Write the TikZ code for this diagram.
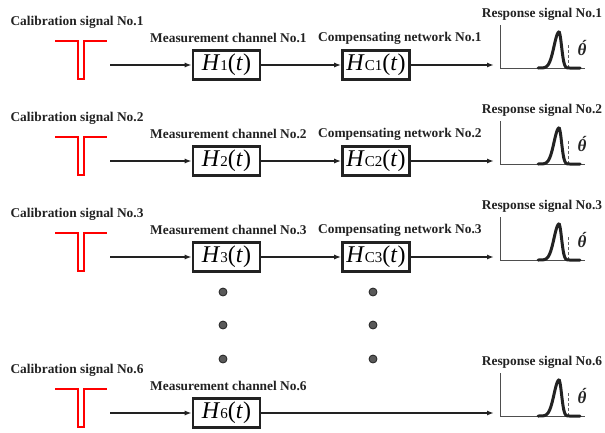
\documentclass[tikz,border=0pt]{standalone}
\usepackage{fontspec}
\setmainfont{Liberation Serif}
\usetikzlibrary{arrows.meta}
\definecolor{ink}{HTML}{222222}
\newcommand\Hbox[1]{{\fontsize{24}{24}\selectfont\itshape H\/}{\fontsize{15}{15}\selectfont #1}{\fontsize{24}{24}\selectfont(\textit{t})}}
\newcommand\thsym{{\bfseries\itshape θ\symbol{"0301}}}
\tikzset{
  lbl/.style={font=\fontsize{13.4}{14}\selectfont\bfseries, inner sep=0pt, text=ink},
  blk/.style={draw=ink, line width=2.6pt, minimum width=67pt, minimum height=29pt, inner sep=0pt},
  sig/.style={draw=ink, line width=2.2pt, -{Latex[length=7pt,width=5pt]}},
  pulse/.style={draw=red, line width=2pt},
  axisln/.style={draw=ink!80, line width=0.9pt},
  resp/.style={draw=ink, line width=3pt, line cap=round},
  dashln/.style={draw=ink!70, line width=0.9pt, dash pattern=on 3pt off 2pt},
  dotc/.style={circle, fill=ink!75, draw=ink, line width=0.8pt, minimum size=8pt, inner sep=0pt},
  sym/.style={inner sep=0pt, text=ink, font=\fontsize{17}{17}\selectfont},
}
\newcommand\respplot[1]{%
  \draw[axisln] (500,#1-40) -- (500,#1+3) -- (585,#1+3);
  \draw[dashln] (568,#1-20) -- (568,#1+3);
  \draw[resp] plot[domain=538:580, samples=60, smooth] (\x, {#1+3-36*exp(-((\x-559)/((\x<559)*7+(\x>=559)*3.6))*((\x-559)/((\x<559)*7+(\x>=559)*3.6)))});
}
\newcommand\pulseshape[1]{%
  \draw[pulse] (55,#1-24) -- (78.3,#1-24) -- (78.3,#1+14) -- (84.3,#1+14) -- (84.3,#1-24) -- (107,#1-24);
}
\begin{document}
\begin{tikzpicture}[x=1pt,y=-1pt]
\useasboundingbox (0,0) rectangle (605,432);
\foreach \i/\c in {1/65,2/161,3/257}{
  \node[lbl] (cal\i) at (77,\c-43) {Calibration signal No.\i};
  \pulseshape{\c}
  \coordinate (s\i) at (110,\c);
  \node[blk] (m\i) at (226.5,\c) {\Hbox{\i}};
  \node[blk] (k\i) at (376,\c) {\Hbox{C\i}};
  \coordinate (r\i) at (494,\c);
  \draw[sig] (s\i) -- (m\i);
  \draw[sig] (m\i) -- (k\i);
  \draw[sig] (k\i) -- (r\i);
  \node[lbl, anchor=west] (ml\i) at (150,\c-27) {Measurement channel No.\i};
  \node[lbl, anchor=west] (kl\i) at (318,\c-27) {Compensating network No.\i};
  \node[lbl] (rl\i) at (542,\c-51) {Response signal No.\i};
  \respplot{\c}
  \node[sym] (th\i) at (582,\c-17) {\thsym};
}
% row 6
\node[lbl] (cal6) at (77,370) {Calibration signal No.6};
\pulseshape{413}
\coordinate (s6) at (110,413);
\node[blk] (m6) at (226.5,413) {\Hbox{6}};
\coordinate (r6) at (494,413);
\draw[sig] (s6) -- (m6);
\draw[sig] (m6) -- (r6);
\node[lbl, anchor=west] (ml6) at (150,386) {Measurement channel No.6};
\node[lbl] (rl6) at (542,362) {Response signal No.6};
\respplot{413}
\node[sym] (th6) at (582,396) {\thsym};
% dots
\foreach \yy [count=\j] in {292,325,359}{
  \node[dotc] (da\j) at (223,\yy) {};
  \node[dotc] (db\j) at (373,\yy) {};
}
\end{tikzpicture}
\end{document}
